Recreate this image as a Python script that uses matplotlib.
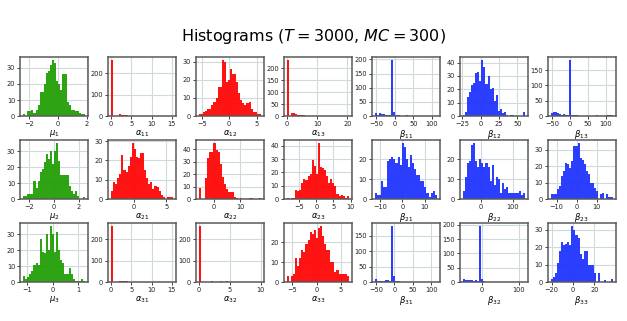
import numpy as np
import matplotlib.pyplot as plt

# bin counts (30-ish bins per panel), with data range
mu1 = [1, 0, 3, 3, 4, 2, 4, 7, 15, 15, 20, 27, 28, 32, 35, 33, 22, 20, 16, 26, 26, 9, 7, 4, 4, 3, 3, 2, 1, 1]
a11 = [262, 0, 0, 0, 8, 5, 4, 4, 2, 1, 1, 1, 0, 2, 1, 1, 0, 1, 0, 0, 1, 0, 0, 1, 0, 0, 0, 0, 0, 1]
a12 = [1, 1, 2, 3, 4, 4, 6, 8, 10, 16, 16, 31, 30, 19, 20, 26, 23, 23, 19, 13, 9, 7, 6, 7, 8, 4, 2, 2, 1, 1]
a13 = [235, 0, 13, 12, 7, 6, 5, 4, 3, 2, 2, 1, 1, 1, 1, 0, 1, 0, 1, 0, 0, 1, 0, 0, 1, 0, 0, 0, 0, 2]
b11 = [10, 5, 10, 7, 8, 5, 4, 3, 198, 13, 3, 2, 1, 1, 1, 2, 1, 0, 0, 0, 1, 1, 1, 0, 1, 1, 0, 0, 1, 1]
b12 = [1, 3, 14, 18, 23, 25, 32, 33, 26, 42, 37, 24, 30, 20, 21, 11, 16, 4, 5, 2, 3, 1, 0, 1, 1, 0, 0, 0, 0, 3]
b13 = [10, 14, 12, 10, 6, 5, 8, 3, 5, 183, 5, 4, 2, 1, 1, 0, 1, 0, 0, 1, 0, 0, 4, 0, 0, 0, 1, 3, 3, 3]

mu2 = [2, 2, 3, 3, 3, 11, 7, 11, 17, 19, 23, 28, 25, 30, 22, 30, 35, 24, 15, 15, 15, 15, 8, 5, 3, 5, 2, 0, 0, 1]
a21 = [4, 9, 8, 11, 13, 23, 15, 14, 17, 22, 29, 26, 22, 21, 24, 24, 15, 11, 8, 9, 5, 7, 6, 4, 2, 1, 0, 1, 1, 1]
a22 = [9, 0, 0, 17, 33, 38, 38, 45, 39, 38, 28, 18, 12, 8, 6, 6, 6, 2, 1, 0, 1, 0, 0, 0, 1, 1, 0, 0, 0, 1]
a23 = [1, 0, 1, 1, 7, 6, 7, 12, 15, 14, 17, 19, 29, 25, 19, 42, 24, 23, 22, 17, 12, 15, 12, 10, 4, 2, 3, 2, 1, 2]
b21 = [3, 2, 2, 9, 6, 6, 19, 20, 21, 20, 18, 21, 17, 28, 26, 20, 16, 22, 18, 15, 12, 12, 9, 9, 6, 3, 1, 3, 4, 2]
b22 = [4, 11, 18, 19, 27, 28, 19, 16, 20, 18, 16, 18, 16, 9, 17, 7, 11, 10, 3, 8, 5, 6, 3, 3, 3, 3, 3, 4, 2, 3]
b23 = [3, 3, 3, 6, 8, 14, 17, 22, 21, 19, 23, 32, 32, 34, 25, 24, 21, 17, 15, 10, 10, 7, 5, 0, 3, 4, 0, 3, 1, 1]

mu3 = [4, 2, 3, 5, 7, 11, 12, 11, 27, 19, 18, 30, 20, 35, 30, 19, 31, 20, 14, 12, 5, 5, 9, 5, 2, 1, 1, 1, 2, 1]
a31 = [262, 0, 0, 0, 5, 5, 5, 5, 3, 2, 1, 1, 0, 1, 0, 1, 0, 0, 1, 0, 0, 0, 1, 0, 0, 0, 0, 0, 0, 1]
a32 = [262, 0, 0, 0, 0, 1, 5, 0, 0, 1, 4, 0, 1, 5, 1, 0, 0, 1, 0, 0, 1, 0, 0, 0, 1, 0, 0, 0, 0, 1]
a33 = [3, 0, 3, 4, 12, 8, 12, 16, 15, 19, 21, 25, 24, 26, 22, 27, 28, 23, 19, 16, 16, 10, 10, 5, 6, 4, 4, 4, 4, 3]
b31 = [10, 5, 4, 5, 5, 7, 6, 5, 182, 20, 5, 3, 2, 1, 1, 1, 1, 0, 1, 1, 2, 1, 0, 1, 1, 0, 1, 0, 0, 1]
b32 = [10, 8, 7, 6, 6, 5, 6, 5, 195, 10, 5, 2, 2, 1, 1, 2, 1, 0, 2, 1, 0, 1, 0, 1, 0, 0, 0, 1, 0, 1]
b33 = [2, 3, 5, 11, 18, 23, 21, 22, 23, 21, 32, 30, 27, 25, 16, 13, 18, 18, 10, 10, 10, 5, 0, 5, 0, 0, 1, 0, 0, 2]

counts = [[mu1, a11, a12, a13, b11, b12, b13],
          [mu2, a21, a22, a23, b21, b22, b23],
          [mu3, a31, a32, a33, b31, b32, b33]]

ranges = [[(-2.42, 1.9), (0, 15.3), (-5.5, 5.8), (0, 20.5), (-54, 113), (-24.5, 60), (-55, 120)],
          [(-2.49, 2.51), (-3.47, 6.0), (-5.7, 18), (-8.6, 9.5), (-12.2, 15.3), (-58, 138), (-13, 17.8)],
          [(-1.15, 1.27), (0, 15.3), (0, 10), (-6.1, 6.6), (-53, 115), (-53, 116), (-21, 37)]]

xticks = [[[-2, 0, 2], [0, 5, 10, 15], [-5, 0, 5], [0, 10, 20], [-50, 0, 50, 100], [-25, 0, 25, 50], [-50, 0, 50, 100]],
          [[-2, 0, 2], [0, 5], [0, 10], [-5, 0, 5, 10], [-10, 0, 10], [0, 100], [-10, 0, 10]],
          [[-1, 0, 1], [0, 5, 10, 15], [0, 5, 10], [-5, 0, 5], [-50, 0, 50, 100], [0, 100], [-20, 0, 20]]]

yticks = [[[0, 10, 20, 30], [0, 100, 200], [0, 10, 20, 30], [0, 50, 100, 150, 200], [0, 50, 100, 150, 200], [0, 10, 20, 30, 40], [0, 50, 100, 150]],
          [[0, 10, 20, 30], [0, 10, 20, 30], [0, 10, 20, 30, 40], [0, 10, 20, 30, 40], [0, 10, 20], [0, 10, 20], [0, 10, 20, 30]],
          [[0, 10, 20, 30], [0, 100, 200], [0, 100, 200], [0, 10, 20], [0, 50, 100, 150], [0, 50, 100, 150, 200], [0, 10, 20, 30]]]

labels = [[r'$\mu_1$', r'$\alpha_{11}$', r'$\alpha_{12}$', r'$\alpha_{13}$', r'$\beta_{11}$', r'$\beta_{12}$', r'$\beta_{13}$'],
          [r'$\mu_2$', r'$\alpha_{21}$', r'$\alpha_{22}$', r'$\alpha_{23}$', r'$\beta_{21}$', r'$\beta_{22}$', r'$\beta_{23}$'],
          [r'$\mu_3$', r'$\alpha_{31}$', r'$\alpha_{32}$', r'$\alpha_{33}$', r'$\beta_{31}$', r'$\beta_{32}$', r'$\beta_{33}$']]

col_colors = ['#1c9c00', '#ff0000', '#ff0000', '#ff0000', '#1a2eff', '#1a2eff', '#1a2eff']

fig, axes = plt.subplots(3, 7, figsize=(6.27, 3.21), dpi=100)
fig.subplots_adjust(left=0.032, right=0.982, bottom=0.121, top=0.822, wspace=0.29, hspace=0.41)

for i in range(3):
    for j in range(7):
        ax = axes[i, j]
        c = counts[i][j]
        lo, hi = ranges[i][j]
        edges = np.linspace(lo, hi, len(c) + 1)
        centers = 0.5 * (edges[:-1] + edges[1:])
        ax.hist(centers, bins=edges, weights=c, color=col_colors[j], alpha=0.92,
                linewidth=0, zorder=2)
        ax.set_axisbelow(True)
        ax.grid(True, color='#cfdadc', linewidth=0.8)
        ax.set_xticks(xticks[i][j])
        ax.set_yticks(yticks[i][j])
        ax.tick_params(labelsize=4.8, length=2, width=0.6, pad=1.5, colors='#222222')
        for s in ax.spines.values():
            s.set_color('#5a5a5a')
            s.set_linewidth(1.1)
        ax.set_xlabel(labels[i][j], fontsize=6, labelpad=1)

fig.suptitle(r'Histograms ($T = 3000$, $MC = 300$)', fontsize=11.5, y=0.915)
fig.savefig('out.png', dpi=100)
